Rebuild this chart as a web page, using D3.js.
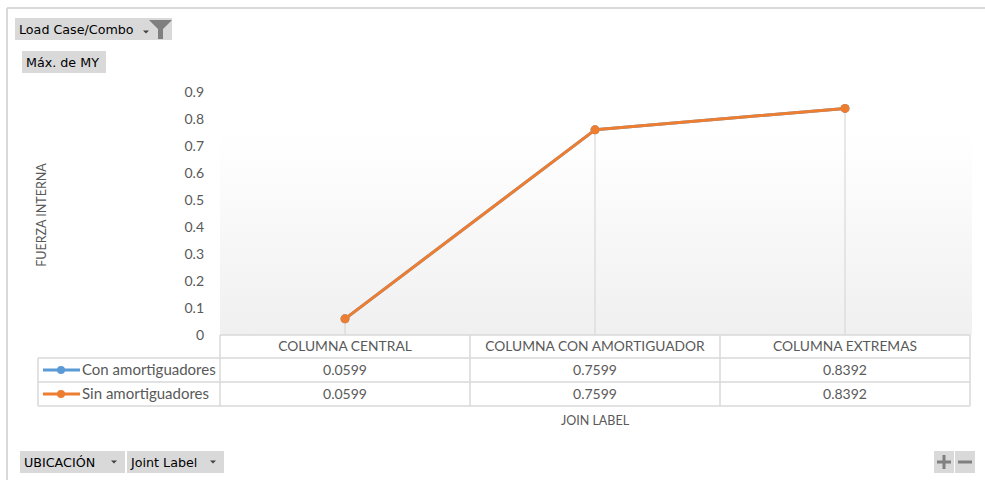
<!DOCTYPE html>
<html>
<head>
<meta charset="utf-8">
<script src="https://cdn.jsdelivr.net/npm/d3@7"></script>
<style>
  html, body { margin: 0; padding: 0; background: #ffffff; }
  svg { display: block; }
</style>
</head>
<body>
<script>
// Joint categories (x) and the two load-case series of max MY
const categories = ["COLUMNA CENTRAL", "COLUMNA CON AMORTIGUADOR", "COLUMNA EXTREMAS"];
const conAmortiguadores = [0.0599, 0.7599, 0.8392];
const sinAmortiguadores = [0.0599, 0.7599, 0.8392];
const seriesNames = ["Con amortiguadores", "Sin amortiguadores"];
const yTicks = [0, 0.1, 0.2, 0.3, 0.4, 0.5, 0.6, 0.7, 0.8, 0.9];
const yTickLabels = ["0", "0.1", "0.2", "0.3", "0.4", "0.5", "0.6", "0.7", "0.8", "0.9"];

const series = [
  { name: seriesNames[0], values: conAmortiguadores, color: "#5B9BD5" },
  { name: seriesNames[1], values: sinAmortiguadores, color: "#ED7D31" }
];

const W = 985, H = 480;
const chartFont = "Lato, 'Open Sans', sans-serif";
const uiFont = "'DejaVu Sans', Verdana, sans-serif";
const gridGray = "#d9d9d9";
const textGray = "#595959";

const svg = d3.select("body").append("svg")
  .attr("width", W).attr("height", H);

const defs = svg.append("defs");
const grad = defs.append("linearGradient")
  .attr("id", "plotFill").attr("x1", 0).attr("y1", 0).attr("x2", 0).attr("y2", 1);
grad.append("stop").attr("offset", "0%").attr("stop-color", "#ffffff");
grad.append("stop").attr("offset", "20%").attr("stop-color", "#ffffff");
grad.append("stop").attr("offset", "100%").attr("stop-color", "#f0f0f0");

// Outer chart frame (top and left edges visible)
svg.append("line").attr("x1", 7).attr("y1", 8).attr("x2", W).attr("y2", 8)
  .attr("stroke", "#d9d9d9").attr("stroke-width", 2);
svg.append("line").attr("x1", 7).attr("y1", 8).attr("x2", 7).attr("y2", H)
  .attr("stroke", "#d9d9d9").attr("stroke-width", 2);

// Scales
const x = d3.scaleBand().domain(categories).range([220, 970]).padding(0);
const y = d3.scaleLinear().domain([0, 0.9]).range([335, 92]);

// Plot area
svg.append("rect")
  .attr("x", 220).attr("y", 84).attr("width", 752).attr("height", y(0) - 84)
  .attr("fill", "url(#plotFill)");

// Y axis labels
const yAxis = d3.axisLeft(y)
  .tickValues(yTicks)
  .tickFormat((d, i) => yTickLabels[i])
  .tickSize(0).tickPadding(0);
const yg = svg.append("g").attr("transform", "translate(204,0)").call(yAxis);
yg.select(".domain").remove();
yg.selectAll("text")
  .attr("fill", textGray)
  .style("font-family", chartFont)
  .style("font-size", "14px");

// Axis title
svg.append("text")
  .attr("transform", "translate(46,215) rotate(-90)")
  .attr("text-anchor", "middle")
  .attr("fill", textGray)
  .style("font-family", chartFont)
  .style("font-size", "12.5px")
  .text("FUERZA INTERNA");

// Drop lines from the highest point of each category to the axis
categories.forEach((c, i) => {
  const top = d3.max(series, s => s.values[i]);
  svg.append("line")
    .attr("x1", x(c) + x.bandwidth() / 2).attr("x2", x(c) + x.bandwidth() / 2)
    .attr("y1", y(top)).attr("y2", y(0))
    .attr("stroke", gridGray).attr("stroke-width", 1.2);
});

// Series lines and markers
const line = d3.line()
  .x((d, i) => x(categories[i]) + x.bandwidth() / 2)
  .y(d => y(d));

series.forEach(s => {
  svg.append("path")
    .attr("d", line(s.values))
    .attr("fill", "none")
    .attr("stroke", s.color)
    .attr("stroke-width", 3)
    .attr("stroke-linejoin", "round");
  svg.selectAll(null).data(s.values).enter().append("circle")
    .attr("cx", (d, i) => x(categories[i]) + x.bandwidth() / 2)
    .attr("cy", d => y(d))
    .attr("r", 4.5)
    .attr("fill", s.color);
});

// Data table
const rowTop = y(0);
const rowH = [23, 24, 24];
const tableG = svg.append("g");
const cellStroke = "#d9d9d9";

// horizontal lines
const hLines = [
  { y: rowTop, x1: 220, x2: 970 },
  { y: rowTop + rowH[0], x1: 38, x2: 970 },
  { y: rowTop + rowH[0] + rowH[1], x1: 38, x2: 970 },
  { y: rowTop + rowH[0] + rowH[1] + rowH[2], x1: 38, x2: 970 }
];
hLines.forEach(l => tableG.append("line")
  .attr("x1", l.x1).attr("x2", l.x2).attr("y1", l.y).attr("y2", l.y)
  .attr("stroke", cellStroke).attr("stroke-width", 1.5));

const tableBottom = rowTop + rowH[0] + rowH[1] + rowH[2];
// vertical lines
[220, 470, 720, 970].forEach(vx => tableG.append("line")
  .attr("x1", vx).attr("x2", vx).attr("y1", rowTop).attr("y2", tableBottom)
  .attr("stroke", cellStroke).attr("stroke-width", 1.5));
tableG.append("line")
  .attr("x1", 38).attr("x2", 38).attr("y1", rowTop + rowH[0]).attr("y2", tableBottom)
  .attr("stroke", cellStroke).attr("stroke-width", 1.5);

// header labels
categories.forEach(c => tableG.append("text")
  .attr("x", x(c) + x.bandwidth() / 2)
  .attr("y", rowTop + rowH[0] / 2)
  .attr("dy", "0.36em")
  .attr("text-anchor", "middle")
  .attr("fill", textGray)
  .style("font-family", chartFont)
  .style("font-size", "13.8px")
  .text(c));

// value rows with legend keys
series.forEach((s, si) => {
  const cy = rowTop + rowH[0] + (si === 0 ? rowH[1] / 2 : rowH[1] + rowH[2] / 2);
  tableG.append("line")
    .attr("x1", 43).attr("x2", 80).attr("y1", cy).attr("y2", cy)
    .attr("stroke", s.color).attr("stroke-width", 3);
  tableG.append("circle").attr("cx", 61).attr("cy", cy).attr("r", 4).attr("fill", s.color);
  tableG.append("text")
    .attr("x", 82).attr("y", cy).attr("dy", "0.36em")
    .attr("fill", textGray)
    .style("font-family", chartFont)
    .style("font-size", "15px")
    .text(s.name);
  s.values.forEach((v, i) => tableG.append("text")
    .attr("x", x(categories[i]) + x.bandwidth() / 2)
    .attr("y", cy).attr("dy", "0.36em")
    .attr("text-anchor", "middle")
    .attr("fill", textGray)
    .style("font-family", chartFont)
    .style("font-size", "14px")
    .text(d3.format(".4f")(v)));
});

// X axis title
svg.append("text")
  .attr("x", 595).attr("y", 420).attr("dy", "0.36em")
  .attr("text-anchor", "middle")
  .attr("fill", textGray)
  .style("font-family", chartFont)
  .style("font-size", "12.5px")
  .text("JOIN LABEL");

// Pivot field buttons
function fieldButton(bx, by, bw, bh, label, opts) {
  const g = svg.append("g");
  g.append("rect").attr("x", bx).attr("y", by).attr("width", bw).attr("height", bh)
    .attr("fill", "#d9d9d9");
  g.append("text").attr("x", bx + 4).attr("y", by + bh / 2).attr("dy", "0.36em")
    .attr("fill", "#000000")
    .style("font-family", uiFont).style("font-size", "12.7px")
    .text(label);
  if (opts && opts.arrowX) {
    const ax = opts.arrowX, ay = by + bh / 2 + (opts.arrowDy || 0);
    g.append("path")
      .attr("d", `M${ax - 3},${ay - 1.5}L${ax + 3},${ay - 1.5}L${ax},${ay + 1.5}Z`)
      .attr("fill", "#404040");
  }
  return g;
}

const b1 = fieldButton(15, 18, 157, 22, "Load Case/Combo", { arrowX: 146, arrowDy: 3 });
// filter funnel
b1.append("path")
  .attr("d", "M149,20 L172,20 L163,29 L163,39 L158,39 L158,29 Z")
  .attr("fill", "#7f7f7f");

fieldButton(22, 51, 84, 22, "Máx. de MY");
fieldButton(20, 451, 105, 22, "UBICACIÓN", { arrowX: 114 });
fieldButton(127, 451, 97, 22, "Joint Label", { arrowX: 213 });

// Zoom buttons
const zb = svg.append("g");
zb.append("rect").attr("x", 934).attr("y", 451).attr("width", 20).attr("height", 22).attr("fill", "#d9d9d9");
zb.append("rect").attr("x", 955).attr("y", 451).attr("width", 20).attr("height", 22).attr("fill", "#d9d9d9");
zb.append("path").attr("d", "M937,462H951M944,455V469").attr("stroke", "#808080").attr("stroke-width", 3);
zb.append("path").attr("d", "M958,462H972").attr("stroke", "#808080").attr("stroke-width", 3);
</script>
</body>
</html>
